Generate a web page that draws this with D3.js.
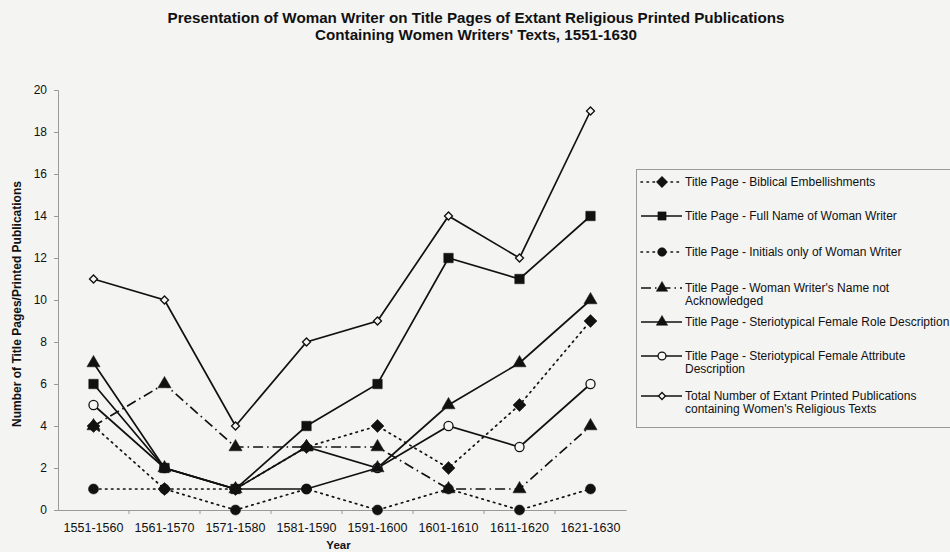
<!DOCTYPE html>
<html>
<head>
<meta charset="utf-8">
<script src="https://cdn.jsdelivr.net/npm/d3@7/dist/d3.min.js"></script>
<style>
  html, body { margin: 0; padding: 0; background: #f4f4f3; }
  svg { display: block; font-family: "Liberation Sans", Arial, sans-serif; }
</style>
</head>
<body>
<svg id="chart" width="950" height="552"></svg>
<script>
// Decades covered by the survey
const categories = ["1551-1560", "1561-1570", "1571-1580", "1581-1590",
                    "1591-1600", "1601-1610", "1611-1620", "1621-1630"];

// Counts of title pages per decade, one array per presentation type
const biblical        = [4, 1, 1, 3, 4, 2, 5, 9];
const fullName        = [6, 2, 1, 4, 6, 12, 11, 14];
const initialsOnly    = [1, 1, 0, 1, 0, 1, 0, 1];
const notAcknowledged = [4, 6, 3, 3, 3, 1, 1, 4];
const roleDescription = [7, 2, 1, 3, 2, 5, 7, 10];
const attributeDesc   = [5, 2, 1, 1, 2, 4, 3, 6];
const totalPubs       = [11, 10, 4, 8, 9, 14, 12, 19];

const yTicks = [0, 2, 4, 6, 8, 10, 12, 14, 16, 18, 20];

const seriesNames = [
  ["Title Page - Biblical Embellishments"],
  ["Title Page - Full Name of Woman Writer"],
  ["Title Page - Initials only of Woman Writer"],
  ["Title Page - Woman Writer's Name not", "Acknowledged"],
  ["Title Page - Steriotypical Female Role Description"],
  ["Title Page - Steriotypical Female Attribute", "Description"],
  ["Total Number of Extant Printed  Publications", "containing Women's Religious Texts"]
];

const seriesValues = [biblical, fullName, initialsOnly, notAcknowledged,
                      roleDescription, attributeDesc, totalPubs];

// Line dash and marker for each series
const DOT = "1.5,4.5";
const styles = [
  { dash: DOT,  marker: "diamond",  fill: true,  size: 85 },
  { dash: null, marker: "square",   fill: true,  size: 90 },
  { dash: DOT,  marker: "circle",   fill: true,  size: 80 },
  { dash: "10,4,1.5,4", marker: "triangle", fill: true, size: 75 },
  { dash: null, marker: "triangle", fill: true,  size: 75 },
  { dash: null, marker: "circle",   fill: false, size: 65 },
  { dash: null, marker: "diamond",  fill: false, size: 32 }
];

// Diamonds are squares turned 45 degrees
const symbolTypes = {
  diamond: d3.symbolSquare,
  square: d3.symbolSquare,
  circle: d3.symbolCircle,
  triangle: d3.symbolTriangle
};
const rotation = m => (m === "diamond" ? 45 : 0);

const ink = "#111";
const paper = "#f6f6f6";
const svg = d3.select("#chart");

const plot = { left: 58, right: 626, top: 90, bottom: 510 };

const x = d3.scaleBand().domain(categories).range([plot.left, plot.right]);
const y = d3.scaleLinear().domain([0, 20]).range([plot.bottom, plot.top]);
const cx = c => x(c) + x.bandwidth() / 2;

// Title
const title = svg.append("text")
  .attr("x", 476).attr("text-anchor", "middle")
  .attr("font-weight", "bold").attr("font-size", 15.2).attr("fill", ink);
title.append("tspan").attr("x", 476).attr("y", 23)
  .text("Presentation of Woman Writer on Title Pages of Extant Religious Printed Publications");
title.append("tspan").attr("x", 476).attr("y", 40)
  .text("Containing Women Writers' Texts, 1551-1630");

// Y axis
const yAxis = svg.append("g")
  .attr("transform", `translate(${plot.left},0)`)
  .call(d3.axisLeft(y).tickValues(yTicks).tickSize(4).tickPadding(7));
yAxis.select(".domain").attr("stroke", "#999");
yAxis.selectAll(".tick line").attr("stroke", "#999");
yAxis.selectAll(".tick text")
  .attr("font-size", 12).attr("fill", ink)
  .attr("font-family", "Liberation Sans, Arial, sans-serif");

// X axis: ticks at category boundaries, labels centered
const xAxis = svg.append("g")
  .attr("transform", `translate(0,${plot.bottom})`)
  .call(d3.axisBottom(x).tickSize(0).tickPadding(13));
xAxis.select(".domain").attr("stroke", "#999");
xAxis.selectAll(".tick text")
  .attr("font-size", 12.5).attr("fill", ink)
  .attr("font-family", "Liberation Sans, Arial, sans-serif");
xAxis.selectAll(".boundary")
  .data(categories.slice(1))
  .join("line")
  .attr("class", "boundary")
  .attr("x1", d => x(d)).attr("x2", d => x(d))
  .attr("y1", 0).attr("y2", 4)
  .attr("stroke", "#999");

// Axis titles
svg.append("text")
  .attr("transform", `translate(21,${(plot.top + plot.bottom) / 2 + 4}) rotate(-90)`)
  .attr("text-anchor", "middle")
  .attr("font-weight", "bold").attr("font-size", 12).attr("fill", ink)
  .text("Number of Title Pages/Printed Publications");

svg.append("text")
  .attr("x", cx("1581-1590") + 32).attr("y", 549)
  .attr("text-anchor", "middle")
  .attr("font-weight", "bold").attr("font-size", 11.5).attr("fill", ink)
  .text("Year");

// Series lines first, then markers; earlier series sit on top
const line = d3.line().x((d, i) => cx(categories[i])).y(d => y(d));
const order = d3.range(seriesValues.length).reverse();

const markerPath = (st, scale) =>
  d3.symbol(symbolTypes[st.marker], st.size * scale)();

order.forEach(s => {
  const st = styles[s];
  svg.append("path")
    .datum(seriesValues[s])
    .attr("d", line)
    .attr("fill", "none")
    .attr("stroke", ink)
    .attr("stroke-width", 1.7)
    .attr("stroke-dasharray", st.dash)
    .attr("stroke-linecap", st.dash === DOT ? "round" : "butt");
});

order.forEach(s => {
  const st = styles[s];
  svg.append("g").selectAll("path")
    .data(seriesValues[s])
    .join("path")
    .attr("transform", (d, i) =>
      `translate(${cx(categories[i])},${y(d)}) rotate(${rotation(st.marker)})`)
    .attr("d", markerPath(st, 1))
    .attr("fill", st.fill ? ink : paper)
    .attr("stroke", ink)
    .attr("stroke-width", st.fill ? 0.5 : 1.3);
});

// Legend
const legend = svg.append("g").attr("transform", "translate(636,169)");
legend.append("rect")
  .attr("x", 0.5).attr("y", 0.5).attr("width", 330).attr("height", 258)
  .attr("fill", "none").attr("stroke", "#9a9a9a").attr("stroke-width", 1);

const entryY = [13, 47, 83, 119, 153, 187, 227];
seriesNames.forEach((lines, s) => {
  const st = styles[s];
  const row = legend.append("g").attr("transform", `translate(0,${entryY[s]})`);
  row.append("line")
    .attr("x1", 5).attr("x2", 46).attr("y1", 0).attr("y2", 0)
    .attr("stroke", ink).attr("stroke-width", 1.6)
    .attr("stroke-dasharray", st.dash)
    .attr("stroke-linecap", st.dash === DOT ? "round" : "butt");
  row.append("path")
    .attr("transform", `translate(26,0) rotate(${rotation(st.marker)})`)
    .attr("d", markerPath(st, 0.75))
    .attr("fill", st.fill ? ink : paper)
    .attr("stroke", ink)
    .attr("stroke-width", st.fill ? 0.5 : 1.3);
  const t = row.append("text")
    .attr("font-size", 12).attr("fill", ink);
  lines.forEach((txt, k) => {
    t.append("tspan").attr("x", 49).attr("y", 4 + k * 13).text(txt);
  });
});
</script>
</body>
</html>
